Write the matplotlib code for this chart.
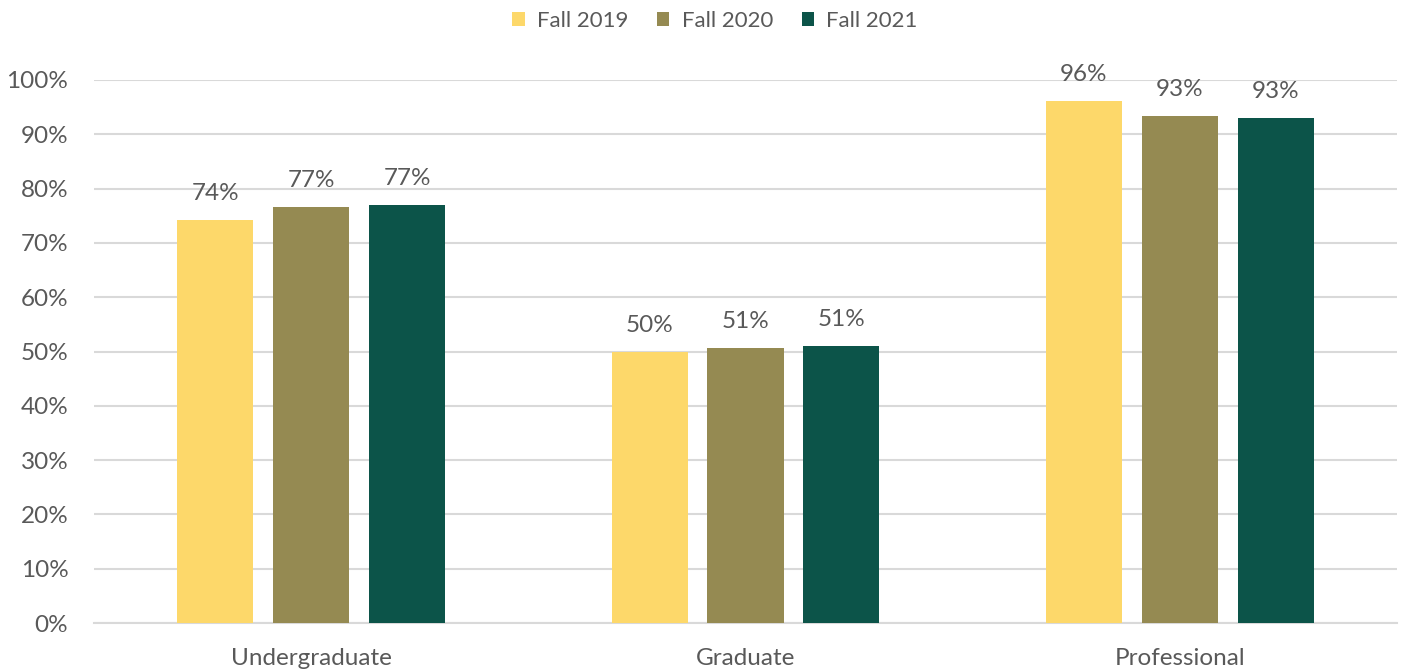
import matplotlib
matplotlib.use("Agg")
import matplotlib.pyplot as plt
import numpy as np

categories = ["Undergraduate", "Graduate", "Professional"]
series_names = ["Fall 2019", "Fall 2020", "Fall 2021"]
fall_2019 = [74.2, 49.9, 96.1]
fall_2020 = [76.6, 50.6, 93.4]
fall_2021 = [77.0, 51.0, 93.0]
labels_2019 = ["74%", "50%", "96%"]
labels_2020 = ["77%", "51%", "93%"]
labels_2021 = ["77%", "51%", "93%"]
yticks = [0, 10, 20, 30, 40, 50, 60, 70, 80, 90, 100]

colors = ["#FDD86A", "#958A52", "#0C5449"]
txt = "#595959"
plt.rcParams['font.family'] = ['Lato', 'DejaVu Sans']

W, H = 1407, 670
fig = plt.figure(figsize=(W/100, H/100), dpi=100)
ax = fig.add_axes([94/W, (H-623)/H, (1397-94)/W, (623-80)/H])

x = np.arange(len(categories))
bw = 0.175
step = 0.221
fs = 17.5
all_vals = [fall_2019, fall_2020, fall_2021]
all_labels = [labels_2019, labels_2020, labels_2021]
for i, (vals, labs, name, c) in enumerate(zip(all_vals, all_labels, series_names, colors)):
    pos = x + (i - 1) * step
    ax.bar(pos, vals, width=bw, color=c, label=name, zorder=3)
    for p, v, l in zip(pos, vals, labs):
        ax.text(p, v + 3.0, l, ha='center', va='bottom', fontsize=fs, color=txt)

ax.set_xlim(-0.5, 2.5)
ax.set_ylim(0, 100)
ax.set_yticks(yticks)
ax.set_yticklabels([f"{t}%" for t in yticks], fontsize=fs, color=txt)
ax.set_xticks(x)
ax.set_xticklabels(categories, fontsize=fs, color=txt)
ax.tick_params(length=0)
ax.tick_params(axis='y', pad=18.5)
ax.tick_params(axis='x', pad=18)
ax.grid(axis='y', color='#D9D9D9', linewidth=1.5, zorder=0)
for s in ["top", "right", "left"]:
    ax.spines[s].set_visible(False)
ax.spines["bottom"].set_color("#D9D9D9")
ax.spines["bottom"].set_linewidth(1.5)

leg = fig.legend(loc='center', bbox_to_anchor=(715/W, (H-21)/H), ncol=3, frameon=False,
                 fontsize=16, handlelength=0.55, handleheight=0.55, handletextpad=0.55,
                 columnspacing=1.3, borderpad=0, borderaxespad=0)
for t in leg.get_texts():
    t.set_color(txt)

fig.savefig("out.png", dpi=100)
